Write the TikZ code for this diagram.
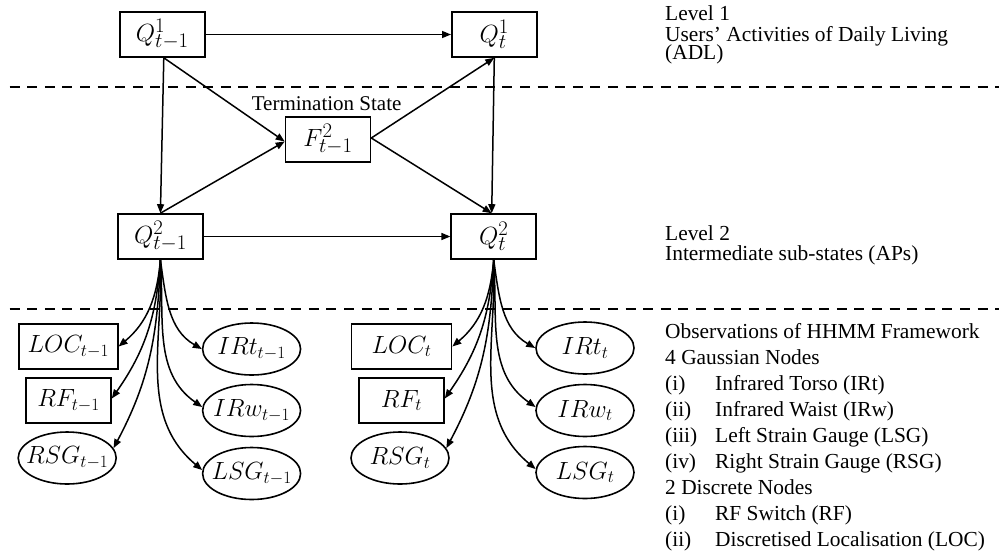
\documentclass[tikz,border=0pt]{standalone}
\usepackage{fontspec}
\setmainfont{Liberation Serif}
\usetikzlibrary{arrows.meta,shapes.geometric}
% larger scripts for the state and observation labels
\DeclareMathSizes{28}{28}{20}{15}
\DeclareMathSizes{24}{24}{17}{13}

\begin{document}
\begin{tikzpicture}[x=1pt,y=-1pt,
  state/.style={draw, line width=1.6pt, minimum width=85pt, minimum height=45pt,
                inner sep=0pt, font=\fontsize{28}{30}\selectfont},
  obsbox/.style={draw, line width=1.6pt, minimum height=45pt, inner sep=0pt,
                 font=\fontsize{24}{28}\selectfont},
  obsell/.style={draw, ellipse, line width=1.6pt, minimum width=98pt,
                 minimum height=52pt, inner sep=0pt},
  obstext/.style={font=\fontsize{24}{28}\selectfont, inner sep=0pt},
  link/.style={line width=1.5pt, -{Triangle[length=9pt,width=7pt]}},
  levelsep/.style={line width=2.2pt, dash pattern=on 10pt off 7.6pt},
  note/.style={font=\fontsize{21.4}{26}\selectfont, anchor=base west, inner sep=0pt,
               text height=14pt, text depth=4pt}
]
\useasboundingbox (0,0) rectangle (999,558);

% level separators
\coordinate (sepAl) at (9.6,87);   \coordinate (sepAr) at (999,87);
\coordinate (sepBl) at (9.6,309);  \coordinate (sepBr) at (999,309);
\draw[levelsep] (sepAl) -- (sepAr);
\draw[levelsep] (sepBl) -- (sepBr);

% hidden states
\node[state] (q1a) at (162.3,34.5) {$Q^1_{t-1}$};
\node[state] (q1b) at (494.3,34.5) {$Q^1_{t}$};
\node[state] (f)   at (328,139.5)  {$F^2_{t-1}$};
\node[state] (q2a) at (160.4,236.5) {$Q^2_{t-1}$};
\node[state] (q2b) at (493.7,236.5) {$Q^2_{t}$};
\node[font=\fontsize{21}{24}\selectfont, inner sep=0pt] (term) at (326.6,103.5) {Termination State};

% transitions
\draw[link] (q1a) -- (q1b);
\draw[link] (q2a) -- (q2b);
\draw[link] ([xshift=1.5pt]q1a.south) -- (q2a.north);
\draw[link] ([xshift=1.5pt]q1a.south) -- ([yshift=-2pt]f.west);
\draw[link] (q2a.north) -- ([yshift=-2pt]f.west);
\draw[link] ([yshift=1.5pt]f.east) -- (q1b.south);
\draw[link] ([yshift=1.5pt]f.east) -- ([xshift=-2pt]q2b.north);
\draw[link] (q1b.south) -- ([xshift=-2pt]q2b.north);

% observations at t-1
\node[obsbox, minimum width=99pt] (locA) at (68.3,346.5) {$LOC_{t-1}$};
\node[obsbox, minimum width=85pt] (rfA)  at (68.5,400.5) {$RF_{t-1}$};
\node[obsell, label={[obstext]center:$RSG_{t-1}$}] (rsgA) at (67.2,458) {};
\node[obsell, label={[obstext]center:$IRt_{t-1}$}] (irtA) at (251.6,349) {};
\node[obsell, label={[obstext]center:$IRw_{t-1}$}] (irwA) at (251.6,410.5) {};
\node[obsell, label={[obstext]center:$LSG_{t-1}$}] (lsgA) at (251.6,473.5) {};

% observations at t
\node[obsbox, minimum width=100pt] (locB) at (401.5,346.5) {$LOC_{t}$};
\node[obsbox, minimum width=85pt]  (rfB)  at (401.5,400.5) {$RF_{t}$};
\node[obsell, label={[obstext]center:$RSG_{t}$}] (rsgB) at (400,458) {};
\node[obsell, label={[obstext]center:$IRt_{t}$}] (irtB) at (585,348) {};
\node[obsell, label={[obstext]center:$IRw_{t}$}] (irwB) at (585,410.5) {};
\node[obsell, label={[obstext]center:$LSG_{t}$}] (lsgB) at (585,472.5) {};

% emissions
\foreach \s/\o in {q2a/A, q2b/B}{
  \draw[link] (\s.south) to[out=-95,in=40] (loc\o.east);
  \draw[link] (\s.south) to[out=-94,in=55] ([yshift=2pt]rf\o.east);
  \draw[link] (\s.south) to[out=-92,in=62] (rsg\o.12);
  \draw[link] (\s.south) to[out=-82,in=150] (irt\o.west);
  \draw[link] (\s.south) to[out=-86,in=145] (irw\o.176);
  \draw[link] (\s.south) to[out=-88,in=140] (lsg\o.176);
}

% descriptions
\node[note] (l1a) at (665,20) {Level 1};
\node[note] (l1b) at (665,41.5) {Users’ Activities of Daily Living};
\node[note] (l1c) at (665,59.5) {(ADL)};
\node[note] (l2a) at (665,240) {Level 2};
\node[note] (l2b) at (665,260) {Intermediate sub-states (APs)};
\node[note] (o1) at (665,338) {Observations of HHMM Framework};
\node[note] (o2) at (665,364) {4 Gaussian Nodes};
\node[note] (o3) at (665,390) {\makebox[50pt][l]{(i)}Infrared Torso (IRt)};
\node[note] (o4) at (665,416) {\makebox[50pt][l]{(ii)}Infrared Waist (IRw)};
\node[note] (o5) at (665,442) {\makebox[50pt][l]{(iii)}Left Strain Gauge (LSG)};
\node[note] (o6) at (665,468) {\makebox[50pt][l]{(iv)}Right Strain Gauge (RSG)};
\node[note] (o7) at (665,494) {2 Discrete Nodes};
\node[note] (o8) at (665,520) {\makebox[50pt][l]{(i)}RF Switch (RF)};
\node[note] (o9) at (665,546) {\makebox[50pt][l]{(ii)}Discretised Localisation (LOC)};
\end{tikzpicture}
\end{document}
